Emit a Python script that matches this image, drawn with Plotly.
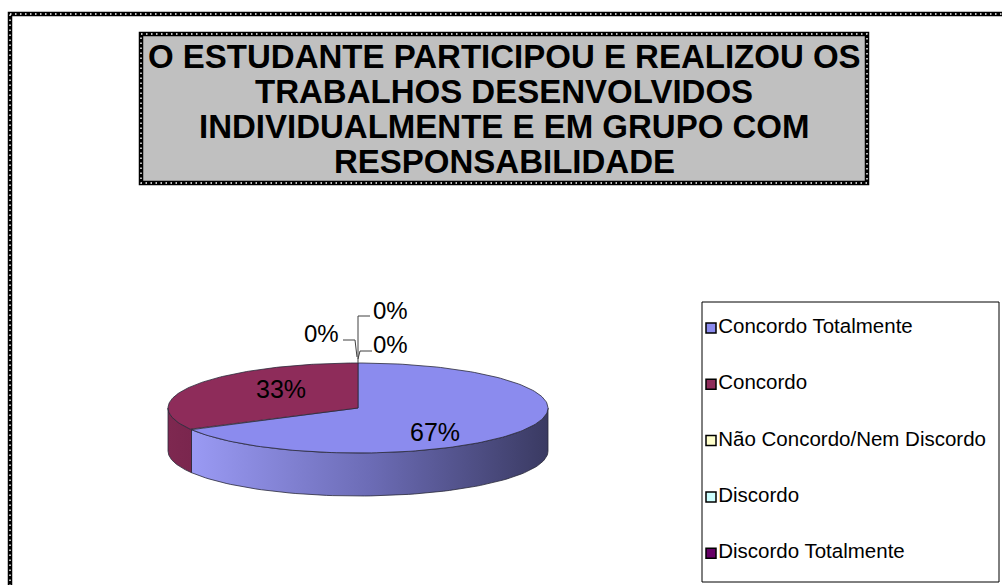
import numpy as np
import plotly.graph_objects as go

# ---------------- data ----------------
categories = ["Concordo Totalmente", "Concordo", "Não Concordo/Nem Discordo",
              "Discordo", "Discordo Totalmente"]
values = [67, 33, 0, 0, 0]
top_colors = ["#8b8bee", "#8e2c5a", "#ffffcc", "#ccffff", "#660066"]
side_scales = [
    [[0, "#9a9af4"], [0.5, "#6c6cb6"], [1, "#3a3a62"]],
    [[0, "#7e2850"], [1, "#7a264e"]],
    [[0, "#e6e6b8"], [1, "#e6e6b8"]],
    [[0, "#b8e6e6"], [1, "#b8e6e6"]],
    [[0, "#500050"], [1, "#500050"]],
]
title_lines = ["O ESTUDANTE PARTICIPOU E REALIZOU OS",
               "TRABALHOS DESENVOLVIDOS",
               "INDIVIDUALMENTE E EM GRUPO COM",
               "RESPONSABILIDADE"]

# ---------------- layout constants (pixel space) ----------------
W, H = 1002, 585
CX, CY, A, B, DEPTH = 358, 408, 190, 45, 43
FONT = "Liberation Sans, Arial, sans-serif"


def ell(theta_deg, dy=0.0):
    t = np.radians(theta_deg)
    return CX + A * np.sin(t), CY - B * np.cos(t) + dy


fig = go.Figure()
total = float(sum(values))
fracs = [v / total for v in values]
starts = np.concatenate([[0], np.cumsum(fracs)[:-1]]) * 360
ends = np.cumsum(fracs) * 360

# sides (front half, 90..270 deg clockwise from top)
for i, (s, e) in enumerate(zip(starts, ends)):
    lo, hi = max(s, 90), min(e, 270)
    if values[i] <= 0 or hi <= lo:
        continue
    th = np.linspace(lo, hi, 80)
    xt, yt = ell(th)
    xb, yb = ell(th[::-1], DEPTH)
    fig.add_trace(go.Scatter(
        x=np.concatenate([xt, xb, xt[:1]]), y=np.concatenate([yt, yb, yt[:1]]),
        mode="lines", fill="toself", line=dict(color="#2a2a3a", width=0.8),
        fillgradient=dict(type="horizontal", colorscale=side_scales[i]),
        hoverinfo="skip", showlegend=False))

# top faces
for i, (s, e) in enumerate(zip(starts, ends)):
    if values[i] <= 0:
        continue
    th = np.linspace(s, e, 160)
    xt, yt = ell(th)
    fig.add_trace(go.Scatter(
        x=np.concatenate([[CX], xt, [CX]]), y=np.concatenate([[CY], yt, [CY]]),
        mode="lines", fill="toself", fillcolor=top_colors[i],
        line=dict(color="#2a2a3a", width=0.8),
        name=categories[i], hoverinfo="name", showlegend=False))

# percentage labels
ann = []
tx, ty = ell(0)
zero_offsets = [(32, -53), (32, -19), (-37, -30)]  # offsets from top anchor
zi = 0
for i, (s, e) in enumerate(zip(starts, ends)):
    pct = f"{round(fracs[i] * 100)}%"
    if values[i] > 0:
        mid = np.radians((s + e) / 2)
        lx = CX + 0.47 * A * np.sin(mid)
        ly = CY + 2.5 - 0.95 * B * np.cos(mid)
        ann.append(dict(x=lx, y=ly, text=pct, showarrow=False,
                        font=dict(family=FONT, size=25, color="black")))
    else:
        ax_, ay_ = ell(s)
        dx, dy = zero_offsets[zi % 3]
        ann.append(dict(x=ax_ + dx, y=ay_ + dy, text=pct, showarrow=False,
                        font=dict(family=FONT, size=24, color="black")))
        zi += 1

# leader lines for zero slices
lc = dict(color="#404040", width=1)
shapes = [
    dict(type="path", xref="x", yref="y",
         path=f"M{tx},{ty} L{tx},{ty-47} L{tx+12},{ty-47}", line=lc),
    dict(type="path", xref="x", yref="y",
         path=f"M{tx},{ty-4} L{tx+2},{ty-12} L{tx+14},{ty-12}", line=lc),
    dict(type="path", xref="x", yref="y",
         path=f"M{tx-15},{ty-23} L{tx-3},{ty-23} L{tx-1},{ty-6}", line=lc),
]

# legend (custom box)
shapes.append(dict(type="rect", xref="x", yref="y", x0=702, y0=302, x1=999, y1=582,
                   line=dict(color="black", width=1), fillcolor="white", layer="below"))
leg_y = [328 + k * 56.3 for k in range(len(categories))]
for i, c in enumerate(categories):
    fig.add_trace(go.Scatter(
        x=[711], y=[leg_y[i]], mode="markers+text", text=[c],
        textposition="middle right",
        textfont=dict(family=FONT, size=20.5, color="black"),
        marker=dict(symbol="square", size=10, color=top_colors[i],
                    line=dict(color="black", width=1.5)),
        name=c, hoverinfo="name", showlegend=False))


def dotted_rect(x0, y0, x1, y1, fill=None):
    r = [dict(type="rect", xref="x", yref="y", x0=x0, y0=y0, x1=x1, y1=y1,
              line=dict(color="black", width=4.5),
              fillcolor=fill if fill else "rgba(0,0,0,0)", layer="below")]
    r.append(dict(type="rect", xref="x", yref="y", x0=x0, y0=y0, x1=x1, y1=y1,
                  line=dict(color="white", width=1.4, dash="1.5px,3.5px"),
                  fillcolor="rgba(0,0,0,0)", layer="below"))
    return r


shapes = dotted_rect(10, 14, 1012, 598) + dotted_rect(141, 34, 867, 183, "#c0c0c0") + shapes

# title lines
for k, t in enumerate(title_lines):
    ann.append(dict(x=504, y=56 + k * 35.3, text=f"<b>{t}</b>", showarrow=False,
                    font=dict(family=FONT, size=33, color="black")))

fig.update_layout(
    width=W, height=H, margin=dict(l=0, r=0, t=0, b=0),
    paper_bgcolor="white", plot_bgcolor="white",
    xaxis=dict(range=[0, W], visible=False, fixedrange=True),
    yaxis=dict(range=[H, 0], visible=False, fixedrange=True),
    shapes=shapes, annotations=ann, showlegend=False,
)
fig.write_html("out.html", config={"displayModeBar": False},
               post_script="document.body.style.margin='0';")
